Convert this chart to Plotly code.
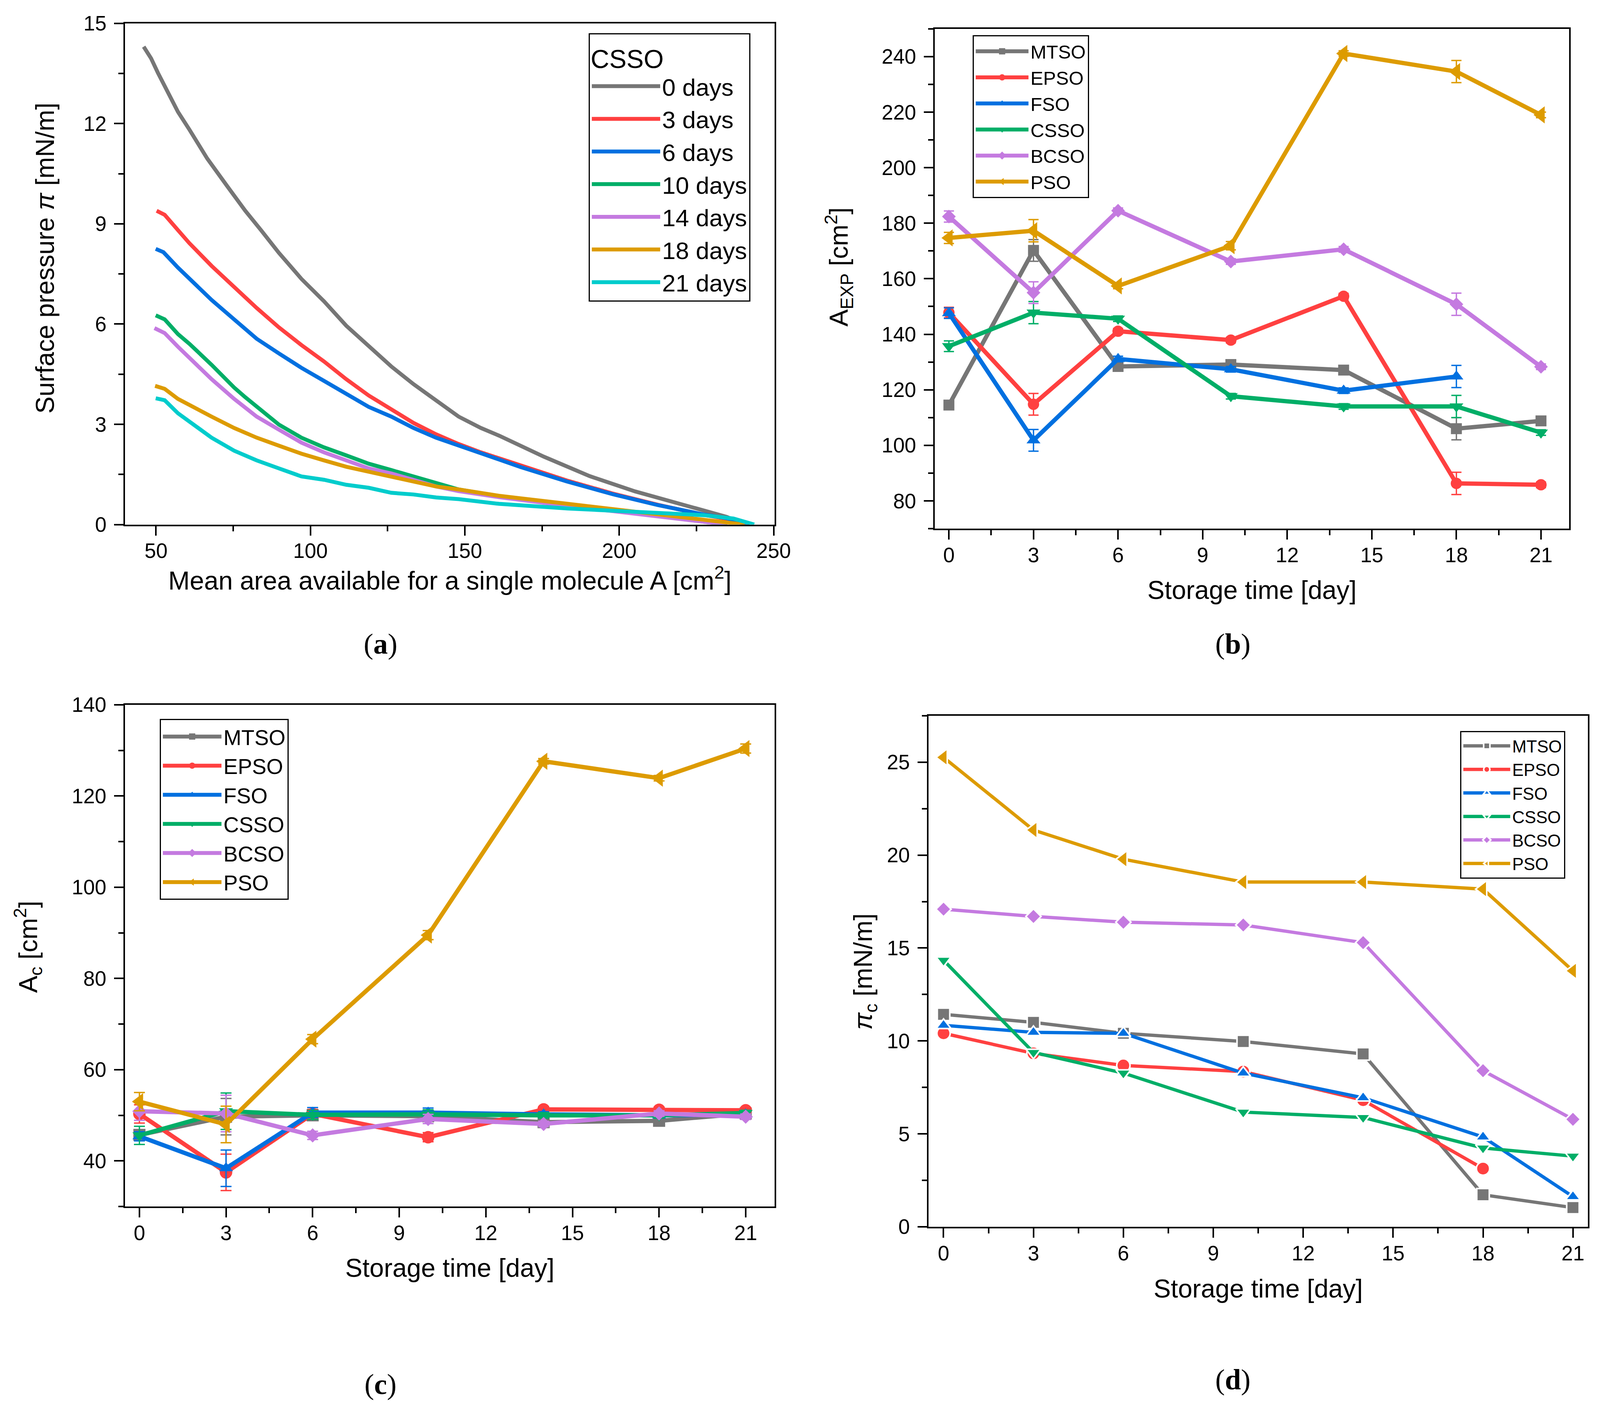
import plotly.graph_objects as go

# ---- panel (a): surface pressure isotherms of CSSO ----
a_labels = ['0 days', '3 days', '6 days', '10 days', '14 days', '18 days', '21 days']

a_x_0 = [46.0, 48.4, 50.6, 53.5, 57.1, 60.8, 66.6, 73.1, 78.9, 84.0, 89.8, 97.1, 104.4, 111.6,
         118.9, 126.2, 133.4, 140.7, 148.0, 155.2, 161.1, 175.6, 190.4, 205.2, 220.0, 234.8, 240.7]
a_y_0 = [14.3, 13.95, 13.52, 12.98, 12.35, 11.82, 10.95, 10.12, 9.39, 8.81, 8.13, 7.35, 6.68, 5.95,
         5.32, 4.73, 4.20, 3.72, 3.23, 2.89, 2.66, 2.03, 1.45, 0.99, 0.62, 0.23, 0.0]
a_x_3 = [50.2, 52.8, 57.1, 60.8, 68.0, 75.3, 82.6, 89.8, 97.1, 104.4, 111.6, 118.9, 126.2, 133.4,
         140.7, 148.0, 155.2, 168.1, 183.0, 197.8, 212.6, 227.4, 234.8, 242.2]
a_y_3 = [9.39, 9.27, 8.81, 8.42, 7.74, 7.11, 6.48, 5.90, 5.37, 4.88, 4.35, 3.86, 3.43, 3.04,
         2.70, 2.41, 2.16, 1.76, 1.32, 0.93, 0.59, 0.29, 0.17, 0.0]
a_x_6 = [49.9, 52.4, 57.1, 60.8, 68.0, 75.3, 82.6, 89.8, 97.1, 104.4, 111.6, 118.9, 126.2, 133.4,
         140.7, 148.0, 155.2, 168.1, 183.0, 197.8, 212.6, 227.4, 234.8, 242.2]
a_y_6 = [8.25, 8.15, 7.69, 7.35, 6.72, 6.14, 5.56, 5.12, 4.69, 4.30, 3.91, 3.52, 3.23, 2.89,
         2.60, 2.36, 2.12, 1.72, 1.29, 0.91, 0.58, 0.30, 0.19, 0.0]
a_x_10 = [49.9, 52.8, 57.1, 60.8, 68.0, 75.3, 78.9, 82.6, 89.8, 97.1, 104.4, 111.6, 118.9, 126.2,
          133.4, 140.7, 148.0, 161.1, 183.3, 205.2, 227.4, 235.0]
a_y_10 = [6.26, 6.14, 5.70, 5.41, 4.78, 4.10, 3.81, 3.52, 2.99, 2.60, 2.31, 2.07, 1.82, 1.63,
          1.44, 1.24, 1.05, 0.84, 0.58, 0.33, 0.09, 0.0]
a_x_14 = [49.5, 52.8, 57.1, 60.8, 68.0, 75.3, 82.6, 89.8, 97.1, 104.4, 111.6, 118.9, 126.2, 133.4,
          140.7, 148.0, 161.1, 183.3, 205.2, 227.4, 235.0]
a_y_14 = [5.88, 5.73, 5.32, 4.98, 4.35, 3.76, 3.23, 2.84, 2.45, 2.16, 1.92, 1.68, 1.53, 1.34,
          1.14, 1.00, 0.82, 0.56, 0.32, 0.09, 0.0]
a_x_18 = [49.7, 52.8, 57.1, 60.8, 68.0, 75.3, 82.6, 89.8, 97.1, 104.4, 111.6, 118.9, 126.2, 133.4,
          140.7, 148.0, 161.1, 183.3, 205.2, 227.4, 240.7]
a_y_18 = [4.15, 4.06, 3.76, 3.57, 3.23, 2.89, 2.60, 2.36, 2.12, 1.92, 1.73, 1.58, 1.44, 1.29,
          1.14, 1.05, 0.86, 0.62, 0.38, 0.16, 0.0]
a_x_21 = [49.9, 52.8, 57.1, 60.8, 68.0, 75.3, 82.6, 89.8, 97.1, 104.4, 111.6, 118.9, 126.2, 133.4,
          140.7, 148.0, 161.1, 183.3, 205.2, 227.4, 237.0, 243.7]
a_y_21 = [3.78, 3.72, 3.33, 3.09, 2.60, 2.21, 1.92, 1.68, 1.44, 1.34, 1.19, 1.10, 0.95, 0.90,
          0.81, 0.76, 0.62, 0.48, 0.38, 0.28, 0.18, 0.0]

# ---- panels (b)-(d): values versus storage time ----
oils = ['MTSO', 'EPSO', 'FSO', 'CSSO', 'BCSO', 'PSO']
days = [0, 3, 6, 10, 14, 18, 21]

aexp_mtso = [114.5, 170.2, 128.4, 129.1, 127.1, 106.0, 108.8]
aexp_epso = [147.8, 114.8, 141.1, 137.9, 153.7, 86.3, 85.8]
aexp_fso = [147.6, 101.8, 131.1, 127.4, 119.7, 124.8]
aexp_csso = [135.7, 147.8, 145.6, 117.7, 114.0, 114.0, 104.6]
aexp_bcso = [182.4, 155.0, 184.5, 166.2, 170.6, 150.8, 128.3]
aexp_pso = [174.7, 177.3, 157.4, 171.9, 241.1, 234.6, 219.0]
aexp_mtso_err = [1.5, 3.9, 1.0, 1.0, 1.0, 4.0, 1.0]
aexp_epso_err = [1.9, 3.9, 1.0, 1.0, 1.0, 4.0, 1.0]
aexp_fso_err = [1.9, 3.9, 1.0, 1.0, 1.0, 4.0]
aexp_csso_err = [1.9, 4.0, 1.0, 1.0, 1.0, 4.0, 1.0]
aexp_bcso_err = [2.0, 3.9, 1.0, 1.0, 1.0, 4.0, 1.0]
aexp_pso_err = [2.0, 4.0, 1.0, 1.5, 1.0, 4.0, 1.0]

ac_mtso = [45.7, 49.7, 50.0, 49.8, 48.5, 48.8, 50.4]
ac_epso = [50.3, 37.5, 50.3, 45.2, 51.3, 51.2, 51.1]
ac_fso = [45.4, 38.4, 50.6, 50.6, 50.2, 50.0, 50.2]
ac_csso = [45.6, 50.9, 50.1, 50.2, 50.0, 50.0, 50.5]
ac_bcso = [50.9, 50.4, 45.6, 49.2, 48.1, 50.4, 49.7]
ac_pso = [53.0, 48.0, 66.7, 89.5, 127.6, 123.9, 130.4]
ac_mtso_err = [1.0, 4.0, 1.0, 1.0, 0.6, 0.6, 0.6]
ac_epso_err = [2.0, 4.0, 1.0, 1.0, 0.6, 0.6, 0.6]
ac_fso_err = [1.0, 4.0, 1.1, 1.0, 0.6, 0.6, 0.6]
ac_csso_err = [2.0, 4.0, 1.0, 1.0, 0.6, 0.6, 0.6]
ac_bcso_err = [2.0, 4.0, 0.9, 1.0, 0.6, 0.6, 0.6]
ac_pso_err = [2.0, 4.0, 1.0, 1.0, 0.6, 0.6, 1.0]

pic_mtso = [11.43, 11.0, 10.41, 9.97, 9.30, 1.72, 1.03]
pic_epso = [10.41, 9.33, 8.68, 8.35, 6.81, 3.13]
pic_fso = [10.84, 10.46, 10.41, 8.27, 6.94, 4.83, 1.62]
pic_csso = [14.34, 9.38, 8.27, 6.17, 5.88, 4.24, 3.80]
pic_bcso = [17.09, 16.70, 16.39, 16.24, 15.29, 8.40, 5.78]
pic_pso = [25.26, 21.35, 19.78, 18.55, 18.55, 18.17, 13.77]

colors = ['#767676', '#FF4040', '#0070E0', '#00AE67', '#C47AE0', '#DD9B00']
a_colors = colors + ['#00CCCC']
symbols = ['square', 'circle', 'triangle-up', 'triangle-down', 'diamond', 'triangle-left']
# Origin-like symbol sizes per panel (plotly draws triangles/diamonds at a different scale)
b_sizes = [28, 29, 31, 31, 27, 38]
c_sizes = [31, 32, 31, 31, 28, 38]
d_sizes = [32, 34, 33, 33, 30, 38]

FONT = 'Liberation Sans'
W, H = 4102, 3614

fig = go.Figure()

a_series = [(a_x_0, a_y_0), (a_x_3, a_y_3), (a_x_6, a_y_6), (a_x_10, a_y_10),
            (a_x_14, a_y_14), (a_x_18, a_y_18), (a_x_21, a_y_21)]
for (xs, ys), name, c in zip(a_series, a_labels, a_colors):
    fig.add_trace(go.Scatter(x=xs, y=ys, mode='lines', name=name,
                             line=dict(color=c, width=10),
                             xaxis='x', yaxis='y', legend='legend'))

b_vals = [aexp_mtso, aexp_epso, aexp_fso, aexp_csso, aexp_bcso, aexp_pso]
b_errs = [aexp_mtso_err, aexp_epso_err, aexp_fso_err, aexp_csso_err, aexp_bcso_err, aexp_pso_err]
c_vals = [ac_mtso, ac_epso, ac_fso, ac_csso, ac_bcso, ac_pso]
c_errs = [ac_mtso_err, ac_epso_err, ac_fso_err, ac_csso_err, ac_bcso_err, ac_pso_err]
d_vals = [pic_mtso, pic_epso, pic_fso, pic_csso, pic_bcso, pic_pso]

for i, oil in enumerate(oils):
    fig.add_trace(go.Scatter(
        x=days[:len(b_vals[i])], y=b_vals[i], mode='lines+markers', name=oil,
        line=dict(color=colors[i], width=11),
        marker=dict(symbol=symbols[i], size=b_sizes[i], color=colors[i]),
        error_y=dict(type='data', array=b_errs[i], color=colors[i], thickness=3.5, width=13),
        xaxis='x2', yaxis='y2', legend='legend2'))
for i, oil in enumerate(oils):
    fig.add_trace(go.Scatter(
        x=days[:len(c_vals[i])], y=c_vals[i], mode='lines+markers', name=oil,
        line=dict(color=colors[i], width=11),
        marker=dict(symbol=symbols[i], size=c_sizes[i], color=colors[i]),
        error_y=dict(type='data', array=c_errs[i], color=colors[i], thickness=3.5, width=14),
        xaxis='x3', yaxis='y3', legend='legend3'))
for i, oil in enumerate(oils):
    fig.add_trace(go.Scatter(
        x=days[:len(d_vals[i])], y=d_vals[i], mode='lines+markers', name=oil,
        line=dict(color=colors[i], width=8.5),
        marker=dict(symbol=symbols[i], size=d_sizes[i], color=colors[i],
                    line=dict(color='white', width=4)),
        xaxis='x4', yaxis='y4', legend='legend4'))


def axis(domain, rng, dtick, minor, anchor, standoff):
    return dict(domain=domain, range=rng, dtick=dtick, tick0=0, anchor=anchor,
                automargin=False,
                showline=True, linecolor='black', linewidth=4.3, mirror=True,
                ticks='outside', ticklen=24, tickwidth=4, tickcolor='black',
                ticklabelstandoff=standoff,
                minor=dict(ticks='outside', ticklen=13, tickwidth=4, dtick=minor,
                           tickcolor='black'),
                showgrid=False, zeroline=False,
                tickfont=dict(family=FONT, size=53, color='black'))


def xaxis(domain, rng, dtick, minor, anchor, title, title_gap):
    ax = axis(domain, rng, dtick, minor, anchor, -6)
    ax['title'] = dict(text=title, standoff=title_gap,
                       font=dict(family=FONT, size=66, color='black'))
    return ax


def yaxis(domain, rng, dtick, minor, anchor):
    return axis(domain, rng, dtick, minor, anchor, 9)


def legend_box(x, y, size, itemwidth):
    return dict(x=x, y=y, xanchor='left', yanchor='top', bgcolor='white',
                bordercolor='black', borderwidth=3, itemwidth=itemwidth,
                font=dict(family=FONT, size=size, color='black'))


def label(text, x, y, size=66, angle=0, family=FONT):
    return dict(text=text, x=x, y=y, xref='paper', yref='paper', showarrow=False,
                xanchor='center', yanchor='middle', textangle=angle,
                font=dict(family=family, size=size, color='black'))


storage = 'Storage time [day]'

fig.update_layout(
    width=W, height=H,
    margin=dict(l=0, r=0, t=0, b=0, autoexpand=False),
    paper_bgcolor='white', plot_bgcolor='white',
    xaxis=xaxis([0.0781, 0.4834], [40, 250.3], 50, 25, 'y',
                'Mean area available for a single molecule A [cm<sup>2</sup>]', 25),
    yaxis=yaxis([0.6285, 0.9835], [0, 15], 3, 1.5, 'x'),
    xaxis2=xaxis([0.5834, 0.9793], [-0.5, 22], 3, 1.5, 'y2', storage, 39),
    yaxis2=yaxis([0.6256, 0.9796], [70, 250], 20, 10, 'x2'),
    xaxis3=xaxis([0.0780, 0.4834], [-0.5, 22], 3, 1.5, 'y3', storage, 39),
    yaxis3=yaxis([0.1455, 0.5009], [30, 140], 20, 10, 'x3'),
    xaxis4=xaxis([0.5795, 0.9910], [-0.5, 21.5], 3, 1.5, 'y4', storage, 40),
    yaxis4=yaxis([0.1312, 0.4931], [0, 27.5], 5, 2.5, 'x4'),
    legend=dict(legend_box(0.3674, 0.9765, 62, 175),
                title=dict(text='CSSO', font=dict(family=FONT, size=66, color='black'))),
    legend2=legend_box(0.607, 0.9751, 49, 135),
    legend3=legend_box(0.0997, 0.4909, 55, 150),
    legend4=legend_box(0.9113, 0.4823, 44, 120),
    annotations=[
        label('Surface pressure <i>π</i> [mN/m]', 0.0280, 0.8171, angle=-90),
        label('A<sub>EXP</sub> [cm<sup>2</sup>]', 0.5236, 0.8110, angle=-90),
        label('A<sub>c</sub> [cm<sup>2</sup>]', 0.01755, 0.3295, angle=-90),
        label('<i>π</i><sub>c</sub> [mN/m]', 0.5397, 0.3118, angle=-90),
        label('(<b>a</b>)', 0.2374, 0.544, size=74, family='Liberation Serif'),
        label('(<b>b</b>)', 0.7694, 0.544, size=74, family='Liberation Serif'),
        label('(<b>c</b>)', 0.2374, 0.0196, size=74, family='Liberation Serif'),
        label('(<b>d</b>)', 0.7694, 0.0230, size=74, family='Liberation Serif'),
    ],
)

# drop the default 8px body margin so the figure sits at the page origin
fig.write_html("out.html", config={'displayModeBar': False},
               post_script="document.body.style.margin = '0px';")
